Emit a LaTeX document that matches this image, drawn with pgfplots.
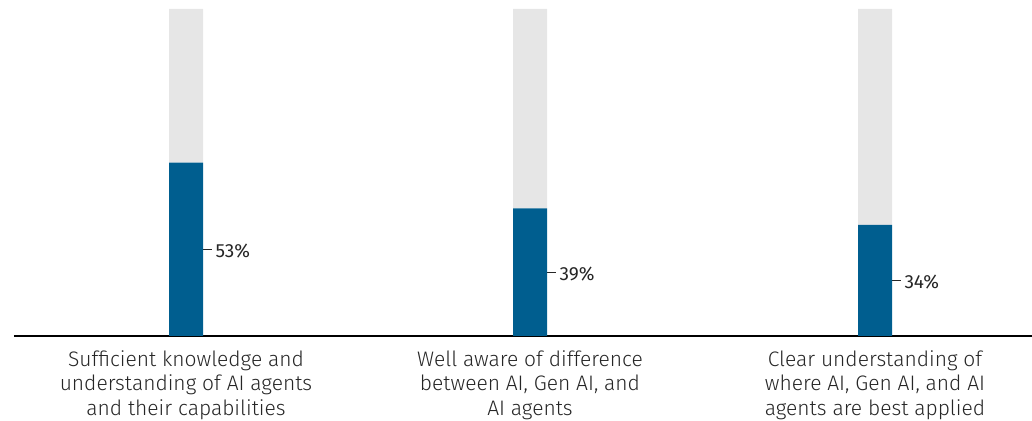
\documentclass[border=0pt]{standalone}
\usepackage{fontspec}
\setmainfont{Fira Sans}[UprightFont=* Light]
\newfontfamily\numfont{Fira Sans}
\usepackage{pgfplots}
\pgfplotsset{compat=1.18}
\definecolor{barblue}{HTML}{005E8F}
\definecolor{bargrey}{HTML}{E6E6E6}
\definecolor{txt}{HTML}{262626}

\pgfplotstableread{
x   val rest
186 53  47
530 39  61
875 34  66
}\shares

\begin{document}
\begin{tikzpicture}
\path[use as bounding box] (0,0) rectangle (516pt,210.5pt);
\begin{axis}[
    at={(7pt,42.5pt)}, anchor=south west,
    scale only axis,
    width=509pt, height=163.5pt,
    xmin=14, xmax=1032,
    ymin=0, ymax=100,
    ybar stacked,
    bar width=17pt,
    axis x line=bottom,
    axis y line=none,
    axis line style={-, line width=0.8pt, black},
    xtick={186,530,875},
    xticklabels={{Sufficient knowledge and\\understanding of AI agents\\and their capabilities},
                 {Well aware of difference\\between AI, Gen AI, and\\AI agents},
                 {Clear understanding of\\where AI, Gen AI, and AI\\agents are best applied}},
    xtick style={draw=none},
    xticklabel style={align=center, font=\fontsize{10.5}{12.3}\selectfont, text=txt, yshift=-1.5pt},
    ytick=\empty,
    clip=false,
]
\addplot[fill=barblue, draw=none] table[x=x, y=val] {\shares};
\addplot[fill=bargrey, draw=none] table[x=x, y=rest] {\shares};

\draw[line width=0.5pt, txt] ([xshift=8.5pt]axis cs:186,26.5) -- ([xshift=13pt]axis cs:186,26.5)
  node[right, inner sep=1.5pt, yshift=-0.8pt, font=\numfont\fontsize{9.5}{11}\selectfont, text=txt] {53\%};
\draw[line width=0.5pt, txt] ([xshift=8.5pt]axis cs:530,19.5) -- ([xshift=13pt]axis cs:530,19.5)
  node[right, inner sep=1.5pt, yshift=-0.8pt, font=\numfont\fontsize{9.5}{11}\selectfont, text=txt] {39\%};
\draw[line width=0.5pt, txt] ([xshift=8.5pt]axis cs:875,17) -- ([xshift=13pt]axis cs:875,17)
  node[right, inner sep=1.5pt, yshift=-0.8pt, font=\numfont\fontsize{9.5}{11}\selectfont, text=txt] {34\%};
\end{axis}
\end{tikzpicture}
\end{document}
